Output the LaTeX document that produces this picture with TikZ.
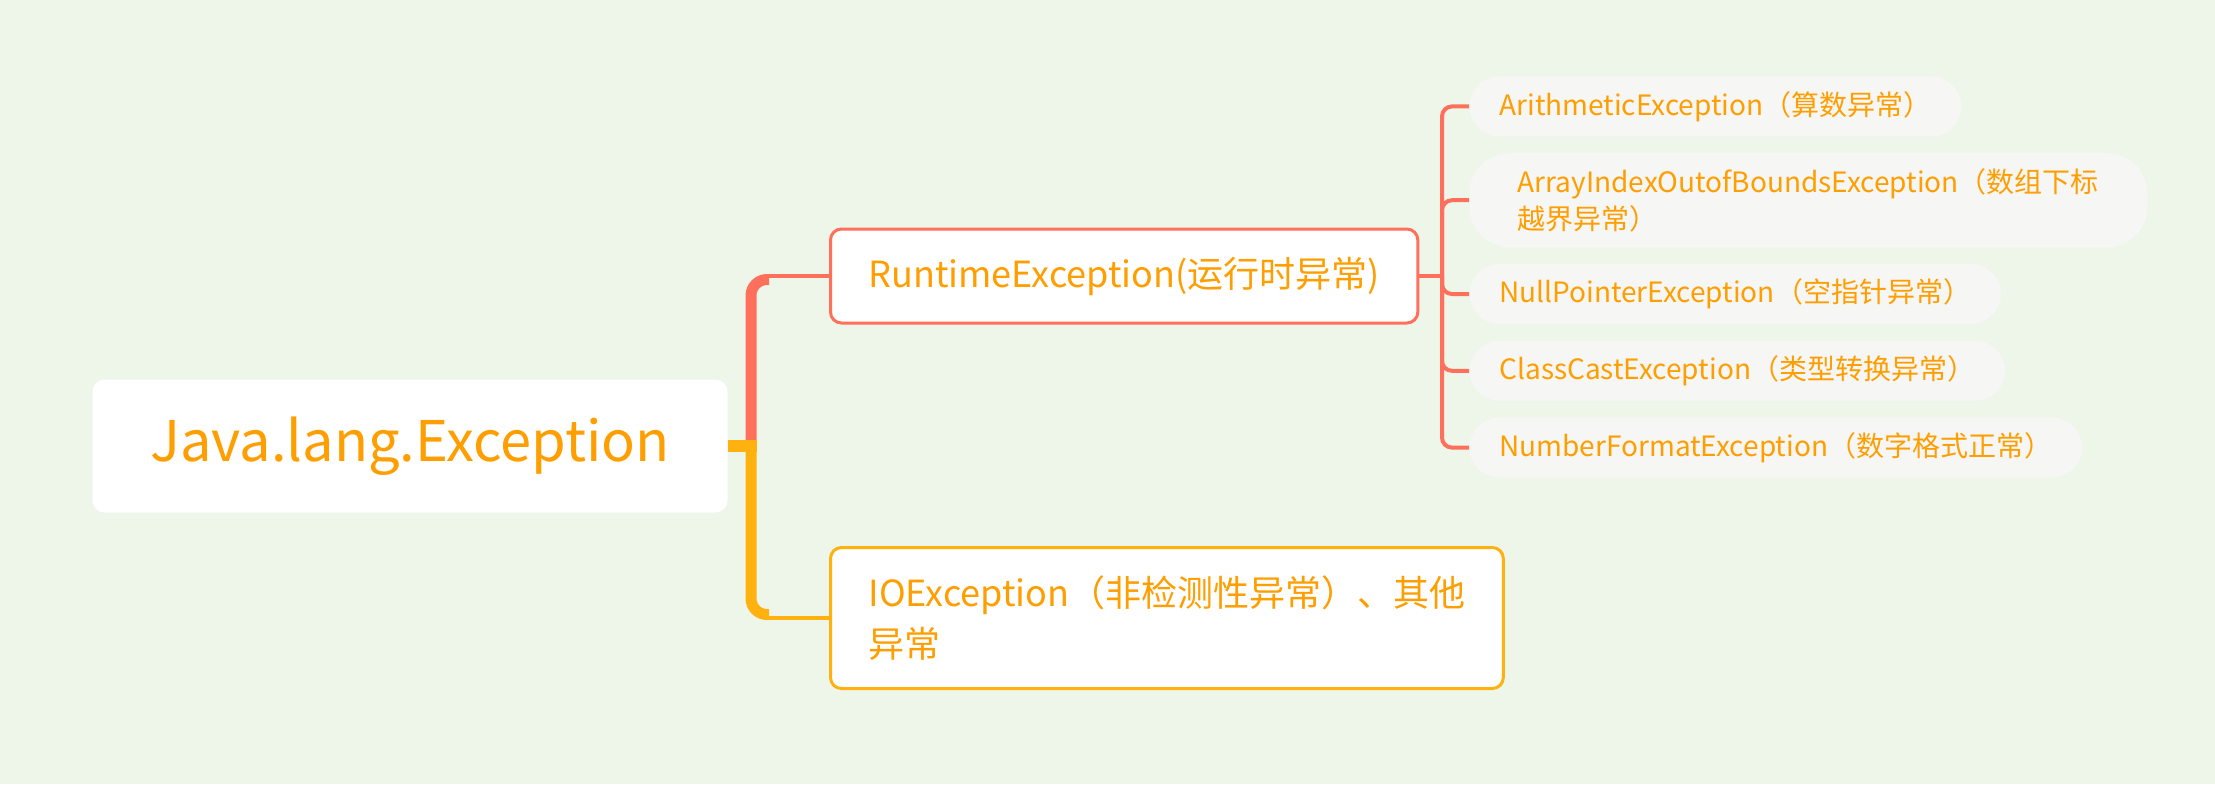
\documentclass[tikz,border=0pt]{standalone}
\usepackage{fontspec}
\setmainfont{Noto Sans CJK SC}
\usetikzlibrary{calc,positioning}

\definecolor{bgc}{RGB}{238,245,233}
\definecolor{txt}{RGB}{255,158,0}
\definecolor{coral}{RGB}{255,112,92}
\definecolor{amber}{RGB}{255,178,15}
\definecolor{pill}{RGB}{246,246,245}

\tikzset{
  rootbox/.style={rectangle, fill=white, rounded corners=6pt, minimum width=317.5pt, minimum height=66.5pt, text=txt, font=\fontsize{28}{34}\selectfont},
  midbox/.style={rectangle, fill=white, draw, line width=1.5pt, rounded corners=5.5pt, inner xsep=19pt, text=txt, font=\fontsize{18}{25.5}\selectfont, align=left},
  leafbox/.style={rectangle, fill=pill, rounded corners=15pt, minimum height=30pt, inner xsep=15pt, text=txt, font=\fontsize{14}{18.5}\selectfont, align=left},
  twig/.style={coral, line width=2pt},
}

\begin{document}
\begin{tikzpicture}[x=0.5pt, y=-0.5pt]
    \fill[bgc] (0,0) rectangle (2215,784);

    %% Root
    \node[rootbox] (root) at (410,446) {Java.lang.Exception};

    %% Second level
    \node[midbox, draw=coral, minimum height=47pt, anchor=west] (rt) at (829,276) {RuntimeException(运行时异常)};
    \node[midbox, draw=amber, minimum height=70.5pt, anchor=west] (io) at (829,618) {IOException（非检测性异常）、其他\\异常};

    %% Leaves of RuntimeException
    \node[leafbox, anchor=north west] (a1) at (1469,76) {ArithmeticException（算数异常）};
    \node[leafbox, minimum height=47pt, minimum width=339pt, inner xsep=20.5pt, rounded corners=20pt, below=8pt of a1.south west, anchor=north west] (a2) {ArrayIndexOutofBoundsException（数组下标\\越界异常）};
    \node[leafbox, below=8pt of a2.south west, anchor=north west] (a3) {NullPointerException（空指针异常）};
    \node[leafbox, below=8pt of a3.south west, anchor=north west] (a4) {ClassCastException（类型转换异常）};
    \node[leafbox, below=8pt of a4.south west, anchor=north west] (a5) {NumberFormatException（数字格式正常）};

    %% Branches
    \coordinate (jn) at (751,446);
    \draw[coral, line width=5.5pt, rounded corners=8pt] (jn) |- ($(jn |- rt.west)+(9pt,-1.75pt)$);
    \draw[coral, line width=2pt] ($(jn |- rt.west)+(8pt,0)$) -- (rt.west);
    \draw[amber, line width=5.5pt, rounded corners=8pt] (jn) |- ($(jn |- io.west)+(9pt,1.75pt)$);
    \draw[amber, line width=2pt] ($(jn |- io.west)+(8pt,0)$) -- (io.west);
    \draw[amber, line width=6pt] (root.east) -- ([xshift=2.75pt]jn);

    %% Twigs to leaves
    \coordinate (hub) at (1442,276);
    \draw[twig] (rt.east) -- (hub);
    \foreach \n in {a1,a2,a3,a4,a5}
        \draw[twig, rounded corners=5pt] (hub) |- (\n.west);
\end{tikzpicture}
\end{document}
